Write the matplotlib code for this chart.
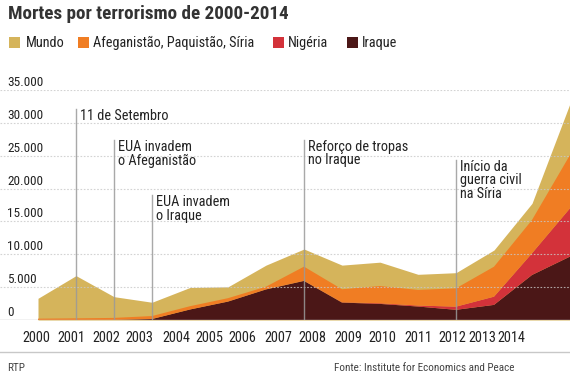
import numpy as np
import matplotlib
matplotlib.use("Agg")
import matplotlib.pyplot as plt
from matplotlib import font_manager as fm
from matplotlib.patches import Rectangle
from matplotlib.lines import Line2D
import matplotlib.transforms as mtransforms

# ---------------- data ----------------
years = list(range(2000, 2015))
mundo = [3300, 6750, 3550, 2700, 4950, 5050, 8350, 10800, 8350, 8800, 6950, 7200, 10650, 17750, 32950]
iraque = [0, 0, 20, 150, 1600, 2800, 4650, 5950, 2650, 2450, 2050, 1550, 2300, 6850, 9650]
nigeria = [0, 0, 0, 0, 0, 20, 20, 20, 50, 100, 150, 480, 1250, 3300, 7350]
af_paq_sir = [200, 250, 300, 450, 500, 500, 400, 2150, 1980, 2620, 2380, 2790, 4560, 5070, 8110]

series_names = ["Mundo", "Afeganistão, Paquistão, Síria", "Nigéria", "Iraque"]
y_ticks = [0, 5000, 10000, 15000, 20000, 25000, 30000, 35000]
y_ticklabels = ["0", "5.000", "10.000", "15.000", "20.000", "25.000", "30.000", "35.000"]
x_ticklabels = [str(y) for y in years]

event_years = [2001, 2002, 2003, 2007, 2011]
event_texts = ["11 de Setembro", "EUA invadem\no Afeganistão", "EUA invadem\no Iraque",
               "Reforço de tropas\nno Iraque", "Início da\nguerra civil\nna Síria"]

title = "Mortes por terrorismo de 2000-2014"
source = "Fonte: Institute for Economics and Peace"
credit = "RTP"

# ---------------- style ----------------
colors = ["#d5b45b", "#f07d23", "#d3323a", "#4b1717"]
avail = {f.name for f in fm.fontManager.ttflist}
FONT = next((f for f in ["Liberation Sans Narrow", "Roboto Condensed", "Roboto"] if f in avail), "DejaVu Sans")
plt.rcParams["font.family"] = [FONT, "DejaVu Sans"]

W, H = 570, 381
fig = plt.figure(figsize=(W / 100, H / 100), dpi=100)


def fx(x):
    return x / W


def fy(y):
    return 1 - y / H


# plot area: baseline at y=320 px, 35.000 at y=90 px; full width
ax = fig.add_axes([0, fy(320), 1, (320 - 90) / H])
ax.set_xlim(1999, 2014)
ax.set_ylim(0, 35000)
for s in ax.spines.values():
    s.set_visible(False)

ax.fill_between(years, 0, mundo, color=colors[0], lw=0, zorder=2)
ax.stackplot(years, iraque, nigeria, af_paq_sir,
             colors=[colors[3], colors[2], colors[1]], lw=0, zorder=3)

# gridlines
for v in y_ticks:
    if v == 0:
        ax.axhline(v, color="#bdbdbd", lw=1.0, zorder=5)
    else:
        ax.axhline(v, color="#c8c8c8", lw=0.8, ls=(0, (1.5, 1.5)), alpha=0.8, zorder=5)

# y tick labels, left-aligned above gridlines
ytrans = mtransforms.blended_transform_factory(ax.transAxes, ax.transData)
yoff = mtransforms.offset_copy(ytrans, fig=fig, x=0, y=1, units="dots")
for v, lab in zip(y_ticks, y_ticklabels):
    ax.text(7 / W, v, lab, transform=yoff, ha="left", va="bottom",
            fontsize=9.5, color="#222222", zorder=6)

# x tick labels (placed as in the reference)
xlabel_px = [36, 71, 106, 139, 176, 209, 242, 278, 312, 348, 382, 418, 452, 482, 511]
xlabel_pos = [1999 + p / 38 for p in xlabel_px]
ax.set_xticks(xlabel_pos, labels=x_ticklabels)
ax.set_yticks([])
ax.tick_params(axis="x", length=0, pad=8, labelsize=10.3, labelcolor="#222222")

# event annotations
event_tops = [32100, 27400, 19000, 27400, 24350]
txoff = mtransforms.offset_copy(ax.transData, fig=fig, x=4, y=0, units="dots")
for yr, txt, top in zip(event_years, event_texts, event_tops):
    ax.plot([yr, yr], [0, top], color="#9a9a9a", lw=1.0, alpha=0.85, zorder=6)
    ax.text(yr, top, txt, transform=txoff, ha="left", va="top", fontsize=10.3,
            color="#222222", linespacing=0.95, zorder=7)

# title
fig.text(fx(8), fy(14), title, ha="left", va="center", fontsize=13.8,
         fontweight="bold", color="#333333")

# legend
leg_sq_x = [9, 78, 273, 347]
leg_tx_x = [26, 93, 288, 362]
for c, name, sx, tx in zip(colors, series_names, leg_sq_x, leg_tx_x):
    fig.patches.append(Rectangle((fx(sx), fy(48)), 11 / W, 11 / H, transform=fig.transFigure,
                                 facecolor=c, edgecolor="none"))
    fig.text(fx(tx), fy(43), name, ha="left", va="center", fontsize=10.3, color="#222222")

# footer separator and texts
fig.add_artist(Line2D([0, 1], [fy(352), fy(352)], transform=fig.transFigure,
                      color="#c8c8c8", lw=1.0))
fig.text(fx(7), fy(368), credit, ha="left", va="center", fontsize=8, color="#444444")
fig.text(fx(515), fy(368), source, ha="right", va="center", fontsize=8, color="#444444")

fig.savefig("out.png", dpi=100)
